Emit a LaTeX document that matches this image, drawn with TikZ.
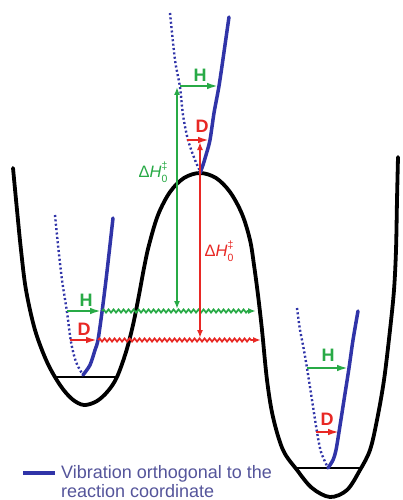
\documentclass[tikz,border=0pt]{standalone}
\usepackage{fontspec}
\setmainfont{Liberation Sans}
\usetikzlibrary{arrows.meta,decorations.pathmorphing}
\definecolor{cblue}{RGB}{48,52,168}
\definecolor{cgreen}{RGB}{40,170,70}
\definecolor{cred}{RGB}{232,40,36}
\definecolor{ctext}{RGB}{85,85,155}
\begin{document}
\begin{tikzpicture}[x=1pt,y=-1pt,
  pes/.style={line width=3.8pt, black, line cap=round, line join=round},
  vib/.style={line width=3.5pt, cblue, line cap=round},
  vibdot/.style={line width=2.4pt, cblue, dash pattern=on 2pt off 2.4pt},
  zpe/.style={line width=1.5pt, black},
  lvl/.style={line width=2.8pt, -{Latex[length=12pt,width=6.5pt]}},
  lab/.style={font=\bfseries\fontsize{18}{18}\selectfont, inner sep=0pt},
  dh/.style={font=\fontsize{16.5}{16.5}\selectfont, inner sep=0pt},
  varr/.style={line width=1.6pt, {Latex[length=8pt,width=6pt]}-{Latex[length=8pt,width=6pt]}},
  wav/.style={line width=1.7pt, decorate, decoration={snake, amplitude=1.6pt, segment length=5pt, post length=8pt}, -{Latex[length=8pt,width=6pt]}},
]
\useasboundingbox (0,0) rectangle (402,500);
\fill[white] (0,0) rectangle (402,500);

% potential energy surface
\draw[pes] plot[smooth, tension=0.55] coordinates {
 (13,168) (17,210) (21,250) (26,290) (35,330) (47,362) (60,385) (72,399) (84,405)
 (97,401) (108,391) (117,377) (126,352) (133,325) (139,295) (144,268) (149,245)
 (158,215) (170,192) (184,178) (200,173) (216,178) (230,192) (242,214) (250,240)
 (254,265) (258,295) (262,330) (267,380) (273,417) (283,450) (297,470) (312,488)
 (330,497) (347,490) (360,470) (370,450) (377,420) (384,380) (390,330) (394,290)
 (396,250) (397,200) (398,157)};

% zero point lines
\draw[zpe] (55,377) -- (117,377);
\draw[zpe] (297,468) -- (360,468);

% orthogonal vibrations (top)
\draw[vibdot] plot[smooth] coordinates {(170,13) (175,60) (180,87) (183,115) (188,140) (195,160) (200,171)};
\draw[vib] plot[smooth] coordinates {(200,173) (203,165) (206,155) (210,140) (214,113) (219,86) (224,52) (229,17)};
% left well
\draw[vibdot] plot[smooth] coordinates {(55,215) (58,245) (62,280) (67,312) (71,342) (76,362) (83,375)};
\draw[vib] plot[smooth] coordinates {(83,375) (90,365) (95,350) (98,340) (102,312) (106,280) (110,245) (113,218)};
% right well
\draw[vibdot] plot[smooth] coordinates {(297,308) (300,330) (303,345) (307,368) (312,400) (317,432) (321,452) (328,468)};
\draw[vib] plot[smooth] coordinates {(328,468) (333,460) (336,450) (339,432) (344,400) (349,368) (353,340) (358,311)};

% levels
\coordinate (tH0) at (180,86);  \coordinate (tH1) at (219,86);
\coordinate (tD0) at (187,140); \coordinate (tD1) at (210,140);
\coordinate (lH0) at (67,311);  \coordinate (lH1) at (102,311); \coordinate (lH2) at (256,311);
\coordinate (lD0) at (70,340);  \coordinate (lD1) at (98,340);  \coordinate (lD2) at (261,340);
\coordinate (rH0) at (307,368); \coordinate (rH1) at (349,368);
\coordinate (rD0) at (316,432); \coordinate (rD1) at (340,432);

\draw[lvl,cgreen] (tH0) -- (tH1);
\draw[lvl,cred] (tD0) -- (tD1);
\draw[lvl,cgreen] (lH0) -- (lH1);
\draw[lvl,cred] (lD0) -- (lD1);
\draw[lvl,cgreen] (rH0) -- (rH1);
\draw[lvl,cred] (rD0) -- (rD1);

\draw[wav,cgreen] (lH1) -- (lH2);
\draw[wav,cred] (lD1) -- (lD2);

\node[lab,text=cgreen] (tH) at (200,75) {H};
\node[lab,text=cred] (tD) at (202,126) {D};
\node[lab,text=cgreen] (lH) at (86,300) {H};
\node[lab,text=cred] (lD) at (84,329) {D};
\node[lab,text=cgreen] (rH) at (328,355) {H};
\node[lab,text=cred] (rD) at (327,419) {D};

% activation arrows
\coordinate (gTop) at (177,87);  \coordinate (gBot) at (177,309);
\coordinate (rTop) at (200,142); \coordinate (rBot) at (200,338);
\draw[varr,cgreen] (gBot) -- (gTop);
\draw[varr,cred] (rBot) -- (rTop);

\node[dh,text=cgreen] (dHg) at (153,172) {Δ\textit{H}\makebox[0pt][l]{\raisebox{0.5em}{\fontsize{10.5}{10.5}\selectfont ‡}}\raisebox{-0.3em}{\fontsize{10.5}{10.5}\selectfont 0}};
\node[dh,text=cred] (dHr) at (219,251) {Δ\textit{H}\makebox[0pt][l]{\raisebox{0.5em}{\fontsize{10.5}{10.5}\selectfont ‡}}\raisebox{-0.3em}{\fontsize{10.5}{10.5}\selectfont 0}};

% legend
\coordinate (lg0) at (23,473); \coordinate (lg1) at (55,473);
\draw[line width=3.5pt, cblue] (lg0) -- (lg1);
\node[anchor=base west, inner sep=0pt, text=ctext, font=\fontsize{18}{20}\selectfont] (leg1) at (61,478) {Vibration orthogonal to the};
\node[anchor=base west, inner sep=0pt, text=ctext, font=\fontsize{18}{20}\selectfont] (leg2) at (61,497) {reaction coordinate};
\end{tikzpicture}
\end{document}
